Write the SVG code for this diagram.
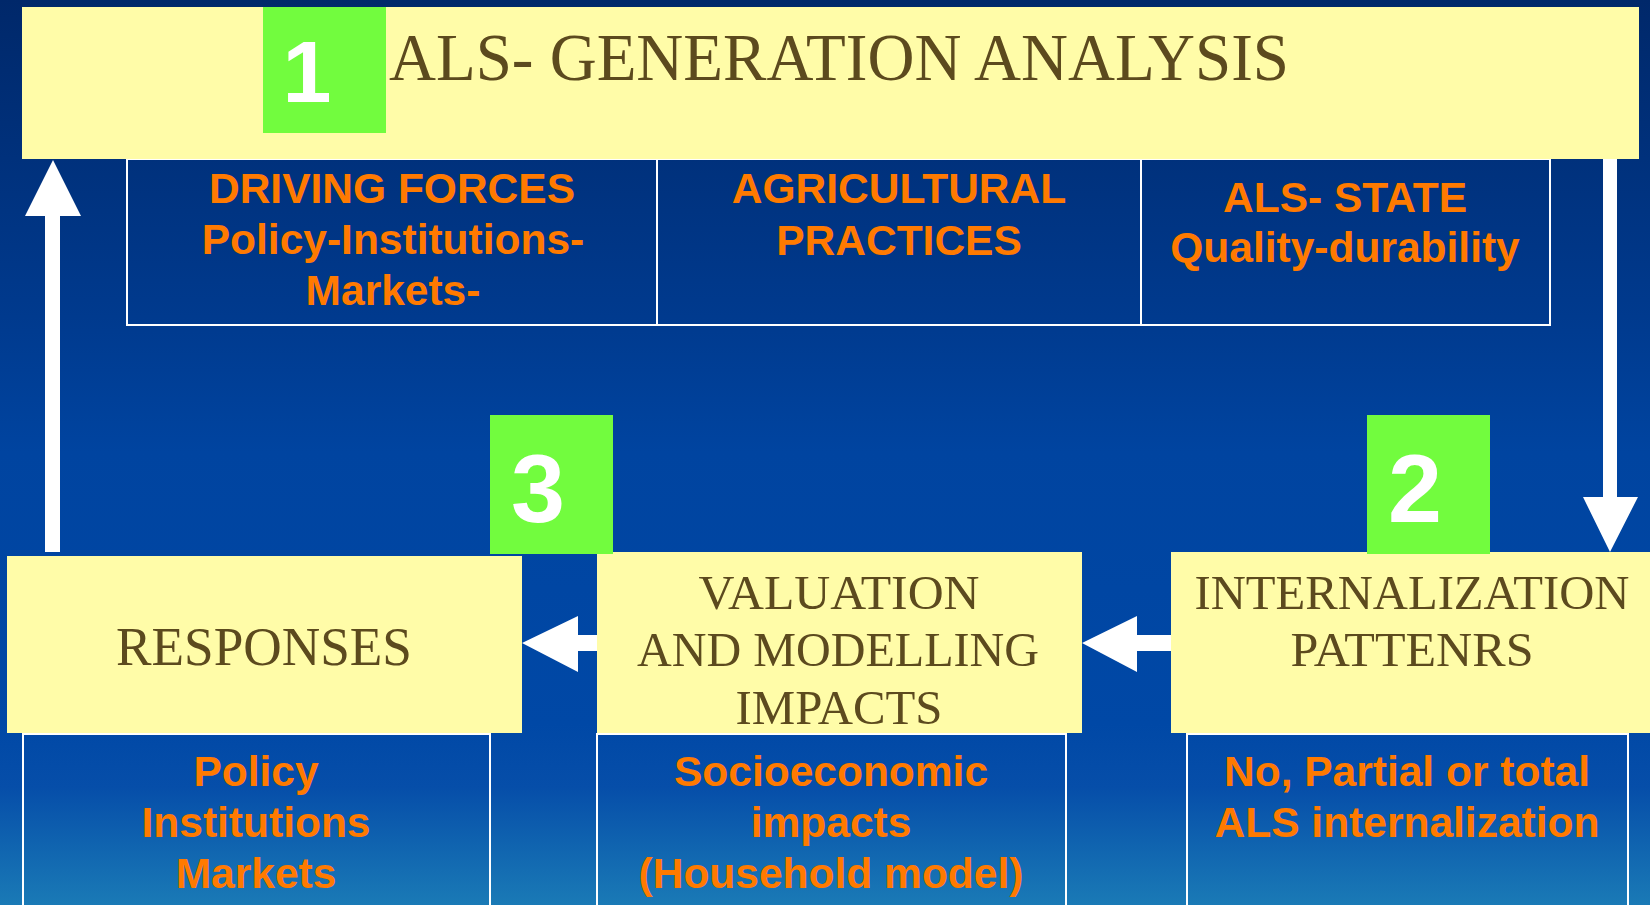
<svg xmlns="http://www.w3.org/2000/svg" width="1650" height="905" viewBox="0 0 1650 905">
<defs>
<linearGradient id="bg" x1="0" y1="0" x2="0" y2="905" gradientUnits="userSpaceOnUse">
<stop offset="0" stop-color="#00286a"/>
<stop offset="0.35" stop-color="#003a8e"/>
<stop offset="0.5" stop-color="#0044a0"/>
<stop offset="0.8" stop-color="#0048a6"/>
<stop offset="0.87" stop-color="#064ea9"/>
<stop offset="1" stop-color="#1a7ab6"/>
</linearGradient>
<style>
.box{fill:#fffca8}
.num{fill:#72fc3e}
.cell{fill:none;stroke:#ffffff;stroke-width:2}
.arrow{fill:#ffffff}
.numt{font-family:"Liberation Sans",Arial,sans-serif;font-weight:bold;fill:#ffffff;text-anchor:middle}
.serif{font-family:"Liberation Serif","Times New Roman",serif;fill:#5c4a1e;text-anchor:middle}
.org{font-family:"Liberation Sans",Arial,sans-serif;font-weight:bold;font-size:42.5px;fill:#ff7a00;text-anchor:middle}
</style>
</defs>
<rect x="0" y="0" width="1650" height="905" fill="url(#bg)"/>

<g id="connectors">
<polygon class="arrow" points="45,552 45,216 25,216 53,160 81,216 60,216 60,552"/>
<polygon class="arrow" points="1603,159 1603,497 1583,497 1610,552 1638,497 1617,497 1617,159"/>
<polygon class="arrow" points="1171,635 1137,635 1137,616 1082,643 1137,672 1137,651 1171,651"/>
<polygon class="arrow" points="597,635 578,635 578,616 522,643 578,672 578,651 597,651"/>
</g>

<g id="driving-forces">
<rect class="cell" x="127" y="159" width="530" height="166"/>
<text class="org" x="392" y="203">DRIVING FORCES</text>
<text class="org" x="393" y="254">Policy-Institutions-</text>
<text class="org" x="393" y="305">Markets-</text>
</g>
<g id="agricultural-practices">
<rect class="cell" x="657" y="159" width="484" height="166"/>
<text class="org" x="899" y="203">AGRICULTURAL</text>
<text class="org" x="899" y="255">PRACTICES</text>
</g>
<g id="als-state">
<rect class="cell" x="1141" y="159" width="409" height="166"/>
<text class="org" x="1345" y="212">ALS- STATE</text>
<text class="org" x="1345" y="262">Quality-durability</text>
</g>

<g id="als-generation-analysis">
<rect class="box" x="22" y="7" width="1617" height="152"/>
<rect class="num" x="263" y="7" width="123" height="126"/>
<text class="numt" x="307" y="102" font-size="88">1</text>
<text class="serif" x="839" y="80" font-size="67" textLength="900" lengthAdjust="spacingAndGlyphs">ALS- GENERATION ANALYSIS</text>
</g>

<g id="responses-detail">
<rect class="cell" x="23" y="734" width="467" height="180"/>
<text class="org" x="256" y="786">Policy</text>
<text class="org" x="256" y="837">Institutions</text>
<text class="org" x="256" y="888">Markets</text>
</g>
<g id="valuation-detail">
<rect class="cell" x="597" y="734" width="469" height="180"/>
<text class="org" x="831" y="786">Socioeconomic</text>
<text class="org" x="831" y="837">impacts</text>
<text class="org" x="831" y="888">(Household model)</text>
</g>
<g id="internalization-detail">
<rect class="cell" x="1187" y="734" width="441" height="180"/>
<text class="org" x="1407" y="786">No, Partial or total</text>
<text class="org" x="1407" y="837">ALS internalization</text>
</g>

<g id="responses">
<rect class="box" x="7" y="556" width="515" height="177"/>
<text class="serif" x="264" y="665" font-size="54" textLength="296" lengthAdjust="spacingAndGlyphs">RESPONSES</text>
</g>
<g id="valuation">
<rect class="box" x="597" y="552" width="485" height="181"/>
<text class="serif" x="839" y="609" font-size="49" textLength="281" lengthAdjust="spacingAndGlyphs">VALUATION</text>
<text class="serif" x="838" y="666" font-size="49" textLength="402" lengthAdjust="spacingAndGlyphs">AND MODELLING</text>
<text class="serif" x="839" y="724" font-size="49" textLength="207" lengthAdjust="spacingAndGlyphs">IMPACTS</text>
</g>
<g id="internalization">
<rect class="box" x="1171" y="552" width="479" height="181"/>
<text class="serif" x="1412" y="609" font-size="49" textLength="435" lengthAdjust="spacingAndGlyphs">INTERNALIZATION</text>
<text class="serif" x="1412" y="666" font-size="49" textLength="243" lengthAdjust="spacingAndGlyphs">PATTENRS</text>
</g>

<g id="badge-3">
<rect class="num" x="490" y="415" width="123" height="139"/>
<text class="numt" x="538" y="522" font-size="97">3</text>
</g>
<g id="badge-2">
<rect class="num" x="1367" y="415" width="123" height="139"/>
<text class="numt" x="1415" y="522" font-size="97">2</text>
</g>
</svg>
